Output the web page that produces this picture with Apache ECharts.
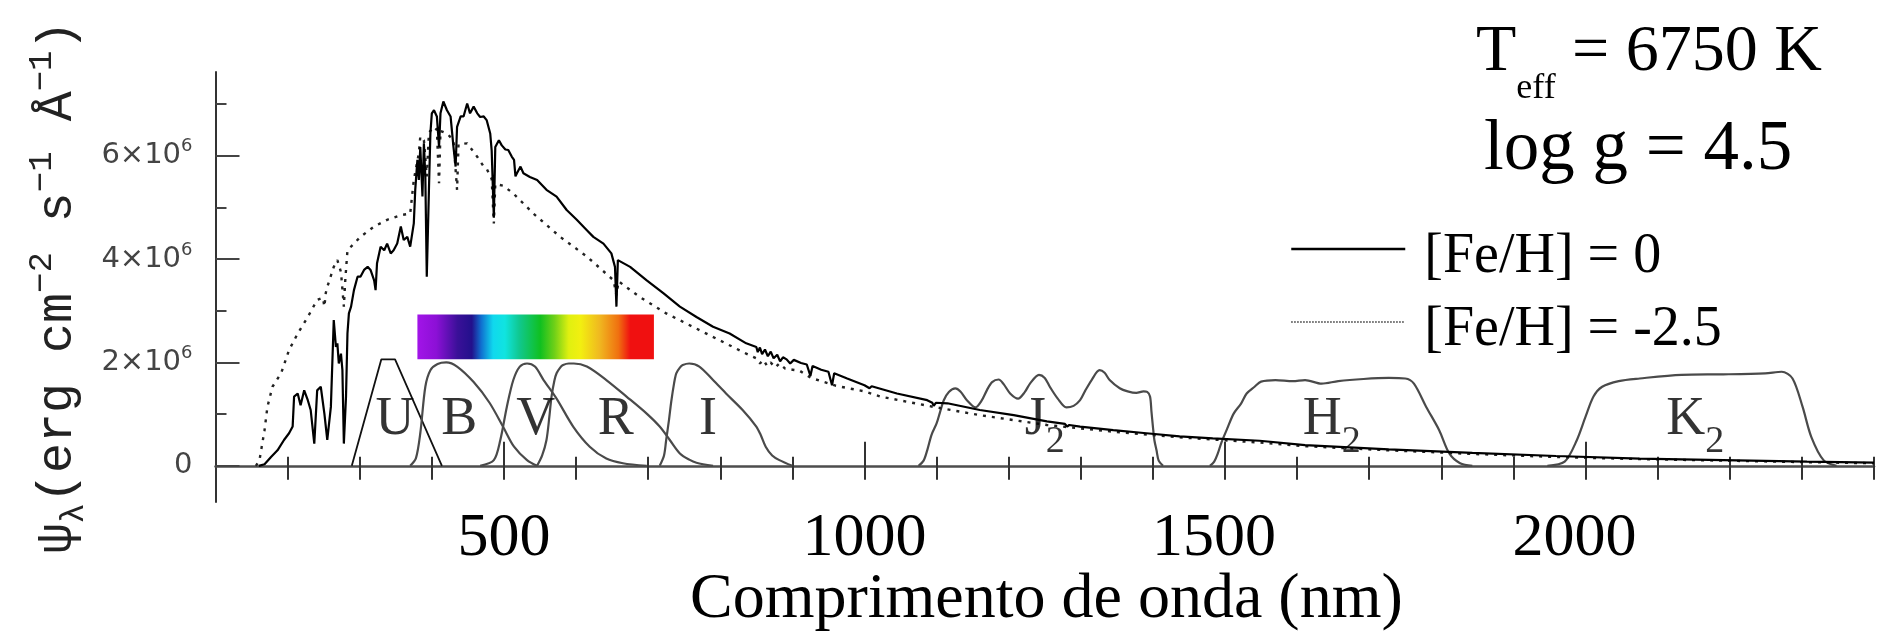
<!DOCTYPE html>
<html>
<head>
<meta charset="utf-8">
<script src="https://cdn.jsdelivr.net/npm/echarts@6/dist/echarts.min.js"></script>
<style>
  html, body { margin: 0; padding: 0; background: #ffffff; }
  #chart { width: 1878px; height: 634px; }
</style>
</head>
<body>
<div id="chart"></div>
<script>
// Synthetic stellar flux, Teff = 6750 K, log g = 4.5.
// Wavelength in nm, flux in units of 10^6 erg cm^-2 s^-1 Å^-1.
const spectrumSolar = [
  [160,0],[168,0.03],[177,0.17],[186,0.30],[195,0.50],[202,0.63],[207,0.76],[209,1.34],[214,1.40],[218,1.17],
  [223,1.46],[228,1.27],[232,1.08],[237,0.43],[241,1.46],[246,1.53],[251,1.01],[255,0.50],[260,1.14],[264,2.82],
  [267,2.30],[269,2.37],[271,1.98],[274,2.17],[276,1.85],[278,0.43],[281,1.34],[283,2.56],[285,2.95],[288,3.08],
  [292,3.40],[297,3.66],[301,3.66],[306,3.79],[311,3.85],[315,3.79],[320,3.59],[322,3.40],[324,3.92],[329,4.24],
  [334,4.17],[338,4.30],[343,4.11],[347,4.17],[352,4.30],[357,4.63],[361,4.37],[366,4.43],[370,4.24],[375,4.69],
  [377,5.34],[380,5.92],[382,5.53],[384,6.17],[387,5.21],[389,6.24],[391,5.59],[393,3.66],[396,5.34],[398,6.43],
  [400,6.82],[403,6.88],[407,6.76],[410,6.17],[412,6.82],[416,7.05],[421,6.88],[426,6.76],[430,6.17],[433,5.79],
  [435,6.56],[440,6.76],[444,6.76],[449,7.01],[453,6.82],[458,6.95],[463,6.82],[467,6.75],[472,6.76],[476,6.69],
  [481,6.43],[483,6.10],[486,4.80],[488,6.17],[493,6.30],[497,6.20],[502,6.12],[506,6.11],[511,5.98],[514,5.92],
  [516,5.60],[518,5.66],[523,5.79],[527,5.66],[536,5.59],[546,5.53],[559,5.34],[573,5.21],[587,4.95],[601,4.76],
  [615,4.56],[624,4.43],[638,4.30],[649,4.11],[654,3.85],[656,3.08],[658,3.98],[675,3.85],[698,3.59],[721,3.34],
  [744,3.08],[767,2.88],[790,2.69],[813,2.56],[836,2.37],[850,2.30],[852,2.20],[855,2.29],[858,2.16],[862,2.25],
  [866,2.12],[870,2.21],[874,2.08],[879,2.15],[883,2.02],[887,2.10],[892,2.06],[897,1.98],[902,2.05],[912,1.99],
  [920,1.96],[925,1.74],[928,1.93],[940,1.86],[950,1.82],[955,1.56],[958,1.79],[976,1.69],[1000,1.56],[1007,1.50],
  [1010,1.54],[1045,1.40],[1087,1.27],[1094,1.22],[1096,1.16],[1099,1.22],[1115,1.21],[1160,1.08],[1207,0.98],[1253,0.86],
  [1278,0.81],[1281,0.76],[1284,0.79],[1299,0.76],[1345,0.69],[1391,0.63],[1437,0.57],[1483,0.53],[1548,0.485],[1611,0.40],
  [1727,0.32],[1843,0.25],[1959,0.19],[2075,0.14],[2191,0.11],[2307,0.08],[2400,0.06]
];

const spectrumPoor = [
  [156,0],[161,0.11],[168,0.69],[172,1.14],[179,1.53],[191,1.79],[202,2.24],[214,2.56],[228,2.88],[241,3.21],
  [249,3.25],[251,3.08],[253,3.35],[255,3.46],[264,3.85],[269,3.98],[274,3.75],[278,3.08],[280,3.60],[283,4.17],
  [301,4.43],[320,4.63],[338,4.76],[357,4.85],[370,4.88],[375,5.53],[382,6.05],[384,6.37],[389,6.30],[393,5.60],
  [396,6.45],[403,6.56],[407,6.50],[410,5.47],[412,6.48],[421,6.43],[430,6.30],[435,5.34],[437,6.22],[449,6.24],
  [463,5.98],[472,5.79],[476,5.75],[483,5.55],[486,4.69],[488,5.45],[499,5.42],[513,5.27],[541,4.88],[578,4.43],
  [615,4.05],[652,3.59],[656,3.30],[659,3.57],[688,3.27],[725,2.95],[762,2.69],[799,2.43],[836,2.17],[850,2.08],
  [855,1.98],[860,2.05],[865,1.93],[870,2.00],[876,1.90],[882,1.98],[890,1.88],[900,1.86],[910,1.84],[926,1.70],
  [960,1.55],[1000,1.44],[1022,1.34],[1096,1.14],[1160,0.98],[1253,0.79],[1345,0.66],[1437,0.55],[1548,0.45],[1611,0.38],
  [1727,0.30],[1843,0.23],[1959,0.17],[2075,0.13],[2191,0.10],[2307,0.07],[2400,0.05]
];

// Photometric passbands, drawn with a peak of about 2 x 10^6.
const bandU = [[289,0],[330,2.06],[349,2.06],[414,0]];
const bandB = [[370,0],[378,0.15],[384,0.63],[391,1.53],[398,1.85],[408,1.97],[420,2.0],[435,1.92],[458,1.62],[480,1.22],[499,0.75],[514,0.37],[532,0.11],[546,0]];
const bandV = [[467,0],[486,0.11],[495,0.50],[504,1.14],[513,1.66],[522,1.92],[532,1.98],[543,1.92],[555,1.66],[573,1.30],[596,0.76],[619,0.37],[642,0.14],[665,0.05],[698,0]];
const bandR = [[546,0],[553,0.2],[559,0.5],[563,0.95],[566,1.34],[570,1.65],[573,1.79],[578,1.9],[582,1.95],[590,1.98],[597,1.98],[615,1.92],[642,1.66],[670,1.34],[698,1.01],[716,0.76],[730,0.50],[744,0.24],[757,0.12],[767,0.06],[790,0]];
const bandI = [[716,0],[722,0.2],[725,0.50],[729,0.9],[732,1.24],[736,1.6],[739,1.79],[744,1.9],[748,1.95],[757,1.98],[771,1.92],[790,1.66],[808,1.40],[831,1.08],[850,0.76],[856,0.6],[863,0.37],[872,0.2],[882,0.11],[900,0]];
const bandJ = [[1075,0],[1082,0.1],[1087,0.30],[1093,0.6],[1100,0.82],[1105,1.05],[1110,1.27],[1117,1.43],[1126,1.50],[1133,1.44],[1142,1.27],[1154,1.13],[1162,1.25],[1170,1.47],[1177,1.62],[1186,1.67],[1193,1.58],[1202,1.40],[1213,1.30],[1222,1.42],[1230,1.60],[1242,1.76],[1250,1.70],[1257,1.53],[1268,1.30],[1280,1.13],[1290,1.16],[1299,1.27],[1306,1.45],[1315,1.66],[1326,1.85],[1333,1.80],[1340,1.66],[1354,1.50],[1365,1.44],[1377,1.41],[1387,1.44],[1392,1.43],[1396,1.34],[1398,1.05],[1400,0.76],[1402,0.5],[1405,0.30],[1408,0.1],[1414,0]];
const bandH = [[1479,0],[1485,0.08],[1490,0.24],[1495,0.45],[1503,0.72],[1512,1.01],[1522,1.2],[1530,1.40],[1541,1.53],[1550,1.63],[1570,1.66],[1594,1.64],[1611,1.66],[1634,1.59],[1657,1.64],[1692,1.68],[1727,1.70],[1750,1.69],[1762,1.59],[1779,1.14],[1797,0.69],[1811,0.24],[1826,0.05],[1843,0]];
const bandK = [[1947,0],[1971,0.08],[1988,0.50],[2000,0.95],[2011,1.34],[2023,1.53],[2046,1.64],[2075,1.69],[2133,1.76],[2191,1.77],[2249,1.79],[2272,1.82],[2287,1.69],[2301,1.14],[2313,0.56],[2330,0.11],[2348,0]];

// Passband names and where they are written (nm, flux)
const opticalNames = ['U', 'B', 'V', 'R', 'I'];
const opticalLabelWave = [349, 438, 544, 655, 783];
const nirNames = ['J', 'H', 'K'];
const nirLabelWave = [1250, 1648, 2152];
const bandLabelFlux = 0.884;

// Visible range shown as a colour strip
const visibleBand = [380, 708];
const stripFlux = [2.06, 2.93];

// Axis ticks
const xMajorTicks = [500, 1000, 1500, 2000];
const xMinorTicks = [200,300,400,600,700,800,900,1100,1200,1300,1400,1600,1700,1800,1900,2100,2200,2300,2400];
const yMajorTicks = [0, 2, 4, 6];
const yMinorTicks = [1, 3, 5, 7];

const seriesNames = ['[Fe/H] = 0', '[Fe/H] = -2.5'];

const SERIF = '"Liberation Serif", "Times New Roman", serif';
const MONO = '"Liberation Mono", "Courier New", monospace';
const SANS = '"DejaVu Sans", sans-serif';

const chart = echarts.init(document.getElementById('chart'), null, { renderer: 'canvas' });

const passbands = [
  { data: bandU, color: '#111111', width: 1.8, smooth: false },
  { data: bandB, color: '#4a4a4a', width: 2.2, smooth: 0.3 },
  { data: bandV, color: '#4a4a4a', width: 2.2, smooth: 0.3 },
  { data: bandR, color: '#4a4a4a', width: 2.2, smooth: 0.3 },
  { data: bandI, color: '#4a4a4a', width: 2.2, smooth: 0.3 },
  { data: bandJ, color: '#4a4a4a', width: 2.2, smooth: 0.3 },
  { data: bandH, color: '#4a4a4a', width: 2.2, smooth: 0.3 },
  { data: bandK, color: '#4a4a4a', width: 2.2, smooth: 0.3 }
];

const passbandSeries = passbands.map((b, i) => ({
  type: 'line',
  name: 'band' + i,
  data: b.data,
  symbol: 'none',
  smooth: b.smooth,
  silent: true,
  z: 2,
  lineStyle: { color: b.color, width: b.width }
}));

const rainbowStops = [
  { offset: 0.00, color: '#a214e8' },
  { offset: 0.08, color: '#8c10d6' },
  { offset: 0.17, color: '#3a1098' },
  { offset: 0.23, color: '#22108c' },
  { offset: 0.27, color: '#1070d0' },
  { offset: 0.32, color: '#10d8ee' },
  { offset: 0.37, color: '#10e4e0' },
  { offset: 0.43, color: '#10c890' },
  { offset: 0.52, color: '#10c020' },
  { offset: 0.58, color: '#70d018' },
  { offset: 0.64, color: '#e0f010' },
  { offset: 0.69, color: '#f2ef10' },
  { offset: 0.77, color: '#f0b820' },
  { offset: 0.85, color: '#f07010' },
  { offset: 0.90, color: '#f01010' },
  { offset: 1.00, color: '#f01010' }
];

const hiddenMarker = { color: 'rgba(0,0,0,0)', borderWidth: 0, opacity: 0 };

const option = {
  animation: false,
  backgroundColor: '#ffffff',
  title: [
    {
      text: '{m|T}{s|eff}{m| = 6750 K}',
      left: 1476, top: 20, padding: 0,
      textStyle: {
        fontWeight: 'normal',
        rich: {
          m: { fontFamily: SERIF, fontSize: 66, lineHeight: 66, fontWeight: 'normal', color: '#000', verticalAlign: 'top' },
          s: { fontFamily: SERIF, fontSize: 36, lineHeight: 87, fontWeight: 'normal', color: '#000', verticalAlign: 'bottom' }
        }
      }
    },
    {
      text: 'log g = 4.5',
      left: 1484, top: 115, padding: 0,
      textStyle: { fontFamily: SERIF, fontSize: 71, lineHeight: 71, fontWeight: 'normal', color: '#000' }
    },
    {
      // x-axis title
      text: 'Comprimento de onda (nm)',
      left: 690, top: 568, padding: 0,
      textStyle: { fontFamily: SERIF, fontSize: 64, lineHeight: 64, fontWeight: 'normal', color: '#000' }
    }
  ],
  legend: {
    orient: 'vertical',
    left: 1290, top: 229, padding: 0,
    itemWidth: 114, itemHeight: 20, itemGap: 17,
    selectedMode: false,
    data: [
      { name: seriesNames[0], itemStyle: hiddenMarker, lineStyle: { color: '#000', width: 2.5, type: 'solid' } },
      { name: seriesNames[1], itemStyle: hiddenMarker, lineStyle: { color: '#222', width: 1.5, type: [1.4, 1.6] } }
    ],
    formatter: name => '{a|' + name + '}',
    textStyle: {
      fontFamily: SERIF, fontSize: 56, color: '#000', padding: [0, 0, 0, 14],
      rich: { a: { fontFamily: SERIF, fontSize: 56, lineHeight: 72, verticalAlign: 'bottom', color: '#000' } }
    }
  },
  grid: {
    left: 215.5, right: 4, top: 72, bottom: 132,
    containLabel: false,
    outerBoundsMode: 'none'
  },
  xAxis: [
    {
      type: 'value', min: 100, max: 2400, position: 'bottom',
      axisLine: { show: true, onZero: true, lineStyle: { color: '#4d4d4d', width: 2.5 } },
      axisTick: { show: true, inside: false, length: 14, customValues: xMinorTicks.concat(xMajorTicks), lineStyle: { color: '#333', width: 2 } },
      axisLabel: {
        customValues: xMajorTicks, margin: 6,
        // the two long-wavelength labels sit slightly left of their ticks
        formatter: v => (v >= 1500 ? '{w|' + v + '}' : String(v)),
        fontFamily: SERIF, fontSize: 62, lineHeight: 62, color: '#000',
        rich: { w: { fontFamily: SERIF, fontSize: 62, lineHeight: 62, color: '#000', padding: [0, 22, 0, 0] } }
      },
      splitLine: { show: false }
    },
    {
      type: 'value', min: 100, max: 2400, position: 'bottom',
      axisLine: { show: true, onZero: true, onZeroAxisIndex: 0, lineStyle: { opacity: 0 } },
      axisTick: { show: true, inside: true, length: 9, customValues: xMinorTicks, lineStyle: { color: '#333', width: 2 } },
      axisLabel: { show: false },
      splitLine: { show: false }
    },
    {
      type: 'value', min: 100, max: 2400, position: 'bottom',
      axisLine: { show: true, onZero: true, onZeroAxisIndex: 0, lineStyle: { opacity: 0 } },
      axisTick: { show: true, inside: true, length: 24, customValues: xMajorTicks, lineStyle: { color: '#333', width: 2 } },
      axisLabel: { show: false },
      splitLine: { show: false }
    }
  ],
  yAxis: [
    {
      type: 'value', min: -0.7, max: 7.62, position: 'left',
      axisLine: { show: true, onZero: false, lineStyle: { color: '#333', width: 2 } },
      axisTick: { show: true, inside: true, length: 24, customValues: yMajorTicks, lineStyle: { color: '#444', width: 2 } },
      axisLabel: {
        customValues: yMajorTicks, margin: 23,
        fontFamily: SANS, fontSize: 29, lineHeight: 36, color: '#444',
        formatter: v => (v === 0 ? '0' : v + '×10{sup|6}'),
        rich: { sup: { fontFamily: SANS, fontSize: 18, lineHeight: 18, verticalAlign: 'top', color: '#444' } }
      },
      splitLine: { show: false },
      name: '{t|ψ}{sub|λ}{t|(erg cm}{sup|−2}{t| s}{sup|−1}{t| Å}{sup|−1}{t|)}',
      nameLocation: 'middle', nameGap: 125, nameMoveOverlap: false,
      nameTextStyle: {
        color: '#222',
        rich: {
          t: { fontFamily: MONO, fontSize: 50, lineHeight: 66, color: '#222' },
          sup: { fontFamily: MONO, fontSize: 34, lineHeight: 20, verticalAlign: 'top', color: '#222' },
          sub: { fontFamily: MONO, fontSize: 34, lineHeight: 20, verticalAlign: 'bottom', color: '#222' }
        }
      }
    },
    {
      type: 'value', min: -0.7, max: 7.62, position: 'left',
      axisLine: { show: true, onZero: false, lineStyle: { opacity: 0 } },
      axisTick: { show: true, inside: true, length: 11, customValues: yMinorTicks, lineStyle: { color: '#444', width: 2 } },
      axisLabel: { show: false },
      splitLine: { show: false }
    }
  ],
  series: passbandSeries.concat([
    {
      type: 'line',
      name: seriesNames[1],
      data: spectrumPoor,
      symbol: 'none',
      silent: true,
      z: 3,
      itemStyle: { color: '#222' },
      lineStyle: { color: '#222', width: 2.4, type: [3, 6] }
    },
    {
      type: 'line',
      name: seriesNames[0],
      data: spectrumSolar,
      symbol: 'none',
      silent: true,
      z: 4,
      itemStyle: { color: '#000' },
      lineStyle: { color: '#000', width: 2.2 }
    },
    {
      type: 'scatter',
      name: 'opticalLabels',
      symbolSize: 0,
      silent: true,
      z: 5,
      data: opticalNames.map((n, i) => ({ name: n, value: [opticalLabelWave[i], bandLabelFlux] })),
      label: {
        show: true, position: 'inside', formatter: p => p.name,
        fontFamily: SERIF, fontSize: 54, color: '#000'
      },
      markArea: {
        silent: true,
        label: { show: false },
        itemStyle: { color: new echarts.graphic.LinearGradient(0, 0, 1, 0, rainbowStops), opacity: 1 },
        data: [[{ coord: [visibleBand[0], stripFlux[0]] }, { coord: [visibleBand[1], stripFlux[1]] }]]
      }
    },
    {
      type: 'scatter',
      name: 'nirLabels',
      symbolSize: 0,
      silent: true,
      z: 5,
      data: nirNames.map((n, i) => ({ name: n, value: [nirLabelWave[i], bandLabelFlux] })),
      label: {
        show: true, position: 'inside', offset: [0, 7],
        formatter: p => '{m|' + p.name + '}{s|2}',
        rich: {
          m: { fontFamily: SERIF, fontSize: 54, lineHeight: 54, verticalAlign: 'top', color: '#000' },
          s: { fontFamily: SERIF, fontSize: 38, lineHeight: 68, verticalAlign: 'bottom', color: '#000' }
        }
      }
    }
  ])
};

chart.setOption(option);
</script>
</body>
</html>
